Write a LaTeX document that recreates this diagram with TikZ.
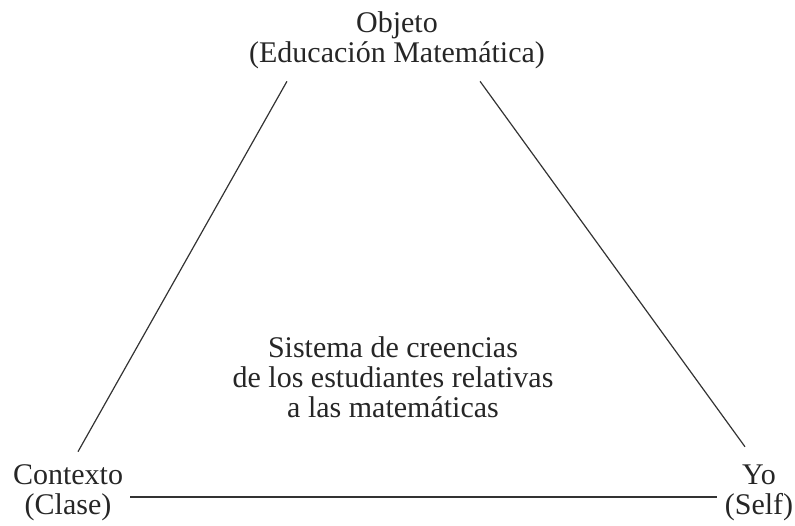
\documentclass[tikz,border=0pt]{standalone}
\usepackage{fontspec}
\setmainfont{Liberation Serif}
\usetikzlibrary{positioning,calc}

\begin{document}
\begin{tikzpicture}[x=1pt, y=-1pt]
\tikzstyle{corner}=[font=\fontsize{30}{30}\selectfont, text=black!85, inner sep=0pt, align=center]
\tikzstyle{middle}=[font=\fontsize{30}{30}\selectfont, text=black!85, inner sep=0pt, align=center]
\tikzstyle{side}=[line width=1.2pt, draw=black!80]
\useasboundingbox (0,0) rectangle (795,525);

\node[corner] (objeto) at (397, 40.5) {Objeto\\(Educación Matemática)};
\node[corner] (contexto) at (68, 493) {Contexto\\(Clase)};
\node[corner] (yo) at (759, 493) {Yo\\(Self)};
\node[middle] (creencias) at (393, 377) {Sistema de creencias\\de los estudiantes relativas\\a las matemáticas};

% lados del triangulo
\draw[side] ([xshift=38pt, yshift=-12pt]objeto.south west) -- ([xshift=10pt, yshift=13pt]contexto.north);
\draw[side] ([xshift=-65pt, yshift=-12pt]objeto.south east) -- ([xshift=-14pt, yshift=18pt]yo.north);
\draw[side] ([xshift=7pt, yshift=-4pt]contexto.east) -- ([xshift=-8pt, yshift=-4pt]yo.west);

\end{tikzpicture}
\end{document}
